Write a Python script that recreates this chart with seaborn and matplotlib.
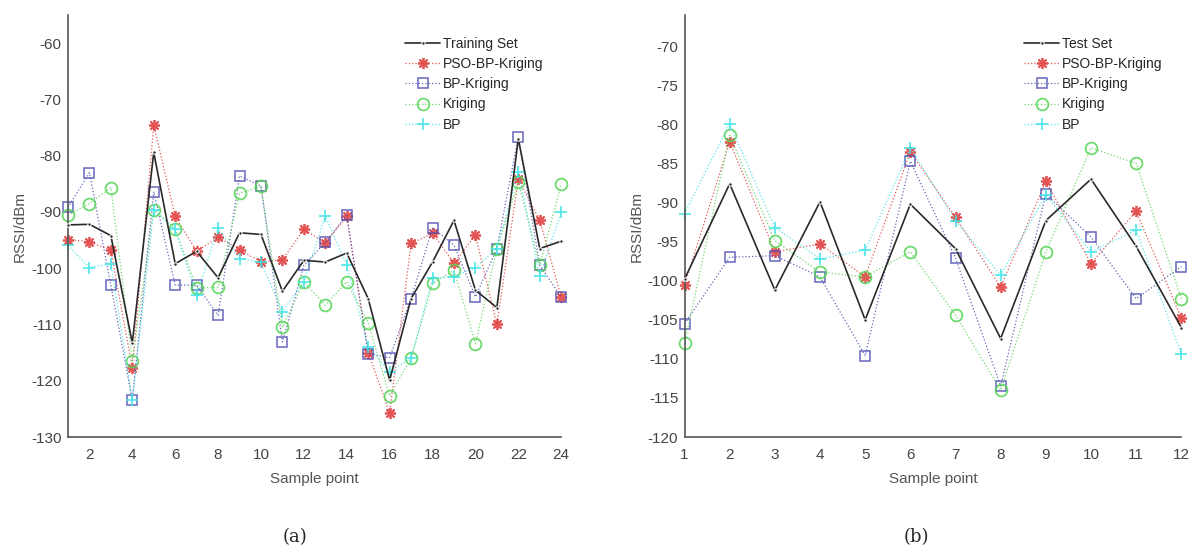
import numpy as np
import pandas as pd
import matplotlib
matplotlib.use('Agg')
import matplotlib.pyplot as plt
import seaborn as sns

# (a) training set, sample points 1..24
train_x = list(range(1, 25))
train_set = [-92.3, -92.2, -94.2, -113.3, -79.4, -99.2, -97.0, -101.7, -93.7, -94.0,
             -104.1, -98.6, -98.9, -97.3, -105.4, -119.9, -105.4, -98.9, -91.5, -103.9,
             -107.0, -77.0, -96.5, -95.2]
train_pso = [-94.9, -95.3, -96.8, -117.8, -74.6, -90.8, -97.0, -94.5, -96.7, -98.9,
             -98.5, -93.1, -95.5, -90.8, -115.0, -125.7, -95.6, -93.8, -99.1, -94.1,
             -110.0, -84.2, -91.5, -105.1]
train_bpk = [-89.2, -83.0, -103.0, -123.4, -86.4, -103.0, -103.0, -108.4, -83.6, -85.4,
             -113.1, -99.5, -95.4, -90.6, -115.2, -115.9, -105.4, -92.8, -95.9, -105.1,
             -96.5, -76.7, -99.5, -105.1]
train_krig = [-90.6, -88.5, -85.7, -116.5, -89.6, -93.1, -103.5, -103.4, -86.7, -85.4,
              -110.5, -102.4, -106.6, -102.4, -109.7, -122.7, -116.0, -102.7, -100.4, -113.4,
              -96.5, -84.7, -99.5, -85.1]
train_bp = [-95.9, -99.9, -99.2, -123.4, -89.6, -93.1, -104.8, -92.9, -98.3, -98.9,
            -107.7, -102.4, -90.7, -99.5, -114.0, -118.4, -116.0, -101.8, -101.5, -99.9,
            -96.5, -82.9, -101.3, -90.0]

# (b) test set, sample points 1..12
test_x = list(range(1, 13))
test_set = [-99.8, -87.6, -101.2, -89.9, -105.0, -90.2, -95.9, -107.4, -92.3, -87.0, -95.6, -106.0]
test_pso = [-100.6, -82.2, -96.3, -95.3, -99.5, -83.5, -91.9, -100.8, -87.3, -97.8, -91.1, -104.8]
test_bpk = [-105.5, -97.0, -96.8, -99.5, -109.6, -84.7, -97.1, -113.5, -88.9, -94.4, -102.3, -98.2]
test_krig = [-108.0, -81.4, -94.9, -98.9, -99.5, -96.3, -104.4, -114.0, -96.3, -83.0, -85.0, -102.3]
test_bp = [-91.4, -79.9, -93.2, -97.2, -96.1, -83.0, -92.3, -99.3, -89.0, -96.3, -93.5, -109.4]

methods = ['PSO-BP-Kriging', 'BP-Kriging', 'Kriging', 'BP']
colors = ['#e03a3a', '#4b4bb0', '#55d455', '#3fe3e6']
markers = [(8, 2, 0), 's', 'o', '+']
msizes = [8, 7, 8.5, 9]

sns.set_style('white')
plt.rcParams['font.family'] = ['Liberation Sans', 'DejaVu Sans']
plt.rcParams['axes.unicode_minus'] = False


def draw_panel(ax, x, ref, preds, ref_label):
    sns.lineplot(x=x, y=ref, ax=ax, color='#2a2a2a', marker='.', markersize=5,
                 linewidth=1.2, label=ref_label, clip_on=False, zorder=5)
    for vals, name, c, m, s in zip(preds, methods, colors, markers, msizes):
        sns.lineplot(x=x, y=vals, ax=ax, color=c, marker=m, markersize=s,
                     markerfacecolor='none' if m in ('s', 'o') else c,
                     markeredgecolor=c, markeredgewidth=1.3 if m != 's' else 1.1,
                     linestyle=':', linewidth=0.9, alpha=0.85, label=name,
                     clip_on=False)
    for side in ['top', 'right']:
        ax.spines[side].set_visible(False)
    for side in ['left', 'bottom']:
        ax.spines[side].set_color('#555555')
        ax.spines[side].set_linewidth(1.2)
    ax.tick_params(direction='in', length=4, color='#555555', labelsize=11,
                   labelcolor='#444444')
    ax.tick_params(axis='x', pad=8)
    ax.tick_params(axis='y', pad=4.5)
    ax.set_xlabel('Sample point', fontsize=11, color='#555555', labelpad=7)
    ax.set_ylabel('RSSI/dBm', fontsize=11, color='#555555', labelpad=3)
    ax.legend(loc='upper left', frameon=False, fontsize=10, handlelength=2.5,
              handletextpad=0.2, labelspacing=0.45, borderpad=0,
              bbox_to_anchor=(0.67, 0.965))


fig = plt.figure(figsize=(12.03, 5.56), dpi=100)
ax1 = fig.add_axes([0.0565, 0.214, 0.41, 0.759])
ax2 = fig.add_axes([0.569, 0.214, 0.413, 0.759])

draw_panel(ax1, train_x, train_set, [train_pso, train_bpk, train_krig, train_bp], 'Training Set')
ax1.set_xlim(1, 24)
ax1.set_ylim(-130, -55)
ax1.set_xticks(range(2, 25, 2))
ax1.set_yticks(range(-130, -59, 10))

draw_panel(ax2, test_x, test_set, [test_pso, test_bpk, test_krig, test_bp], 'Test Set')
ax2.set_xlim(1, 12)
ax2.set_ylim(-120, -66)
ax2.set_xticks(range(1, 13))
ax2.set_yticks(range(-120, -69, 5))

fig.text(0.245, 0.025, '(a)', fontsize=13, ha='center', family='DejaVu Serif')
fig.text(0.762, 0.025, '(b)', fontsize=13, ha='center', family='DejaVu Serif')

fig.savefig('out.png', dpi=100)
